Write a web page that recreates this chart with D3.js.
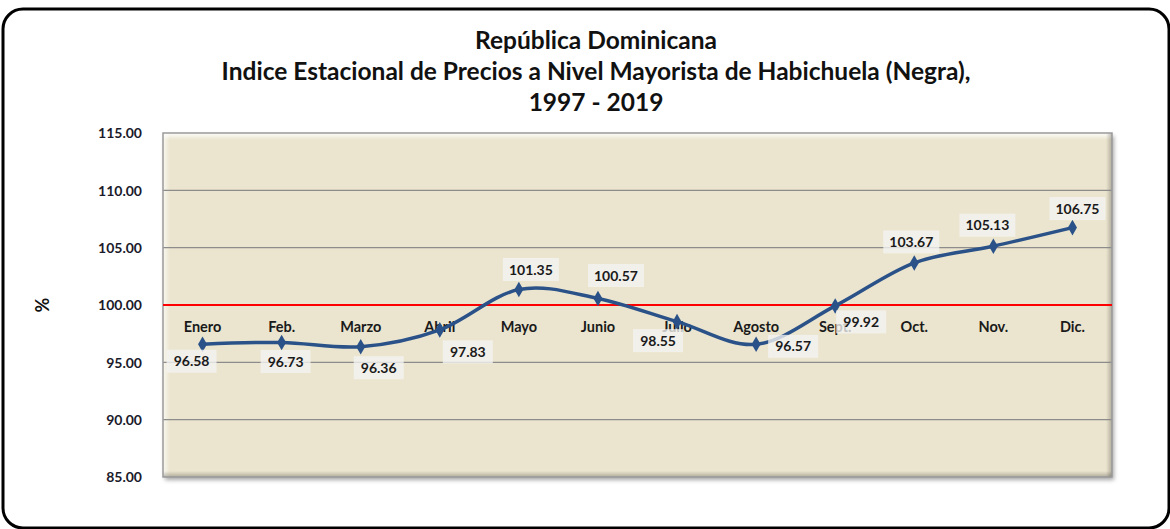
<!DOCTYPE html>
<html>
<head>
<meta charset="utf-8">
<script src="https://cdn.jsdelivr.net/npm/d3@7"></script>
<style>
  body { margin: 0; background: #fff; }
  svg { display: block; font-family: Lato, "Open Sans", sans-serif; font-weight: bold; }
</style>
</head>
<body>
<svg id="chart" width="1170" height="529"></svg>
<script>
var titleLines = ['República Dominicana',
                  'Indice Estacional de Precios a Nivel Mayorista de Habichuela (Negra),',
                  '1997 - 2019'];
var months = ['Enero', 'Feb.', 'Marzo', 'Abril', 'Mayo', 'Junio', 'Julio', 'Agosto', 'Sept.', 'Oct.', 'Nov.', 'Dic.'];
var indexValues = [96.58, 96.73, 96.36, 97.83, 101.35, 100.57, 98.55, 96.57, 99.92, 103.67, 105.13, 106.75];
var yTicks = [85, 90, 95, 100, 105, 110, 115];
var baseline = 100;

// where Excel put each data label, relative to its point
var labelOffsets = [[-11, 17], [4, 19], [18, 21], [28, 22], [12, -20], [18, -23],
                    [-19, 19], [37, 2], [26, 16], [-3, -21], [-6, -21], [5, -19]];

var svg = d3.select('#chart');
var plot = {left: 163, top: 133, right: 1112, bottom: 477};

var x = d3.scalePoint().domain(months).range([plot.left, plot.right]).padding(0.5);
var y = d3.scaleLinear().domain([85, 115]).range([plot.bottom, plot.top]);

var defs = svg.append('defs');
defs.append('filter').attr('id', 'shadow')
    .attr('x', '-5%').attr('y', '-5%').attr('width', '110%').attr('height', '115%')
  .append('feDropShadow')
    .attr('dx', 2).attr('dy', 3).attr('stdDeviation', 2)
    .attr('flood-color', '#000').attr('flood-opacity', 0.35);

function grad(id, x2, y2, stops) {
    var g = defs.append('linearGradient').attr('id', id)
        .attr('x1', 0).attr('y1', 0).attr('x2', x2).attr('y2', y2);
    stops.forEach((s) => g.append('stop').attr('offset', s[0]).attr('stop-color', s[1]).attr('stop-opacity', s[2]));
}
grad('hiTop', 0, 1, [[0, '#fff', 0.9], [1, '#fff', 0]]);
grad('hiLeft', 1, 0, [[0, '#fff', 0.7], [1, '#fff', 0]]);
grad('loRight', 1, 0, [[0, '#000', 0], [1, '#000', 0.25]]);
grad('loBottom', 0, 1, [[0, '#000', 0], [1, '#000', 0.25]]);

// outer rounded frame
svg.append('rect')
    .attr('x', 3).attr('y', 9).attr('width', 1166).attr('height', 519)
    .attr('rx', 20).attr('ry', 20)
    .attr('fill', '#fff').attr('stroke', '#000').attr('stroke-width', 3);

// title
svg.append('g').selectAll('text').data(titleLines).enter().append('text')
    .attr('x', 596).attr('y', (d, i) => 49 + i * 31)
    .attr('text-anchor', 'middle').attr('font-size', 24.5).attr('fill', '#111')
    .text((d) => d);

// plot area with bevel
var pw = plot.right - plot.left, ph = plot.bottom - plot.top;
svg.append('rect')
    .attr('x', plot.left).attr('y', plot.top).attr('width', pw).attr('height', ph)
    .attr('fill', '#ebe5cf').attr('filter', 'url(#shadow)');
svg.append('rect').attr('x', plot.left).attr('y', plot.top).attr('width', pw).attr('height', 7).attr('fill', 'url(#hiTop)');
svg.append('rect').attr('x', plot.left).attr('y', plot.top).attr('width', 7).attr('height', ph).attr('fill', 'url(#hiLeft)');
svg.append('rect').attr('x', plot.right - 6).attr('y', plot.top).attr('width', 6).attr('height', ph).attr('fill', 'url(#loRight)');
svg.append('rect').attr('x', plot.left).attr('y', plot.bottom - 6).attr('width', pw).attr('height', 6).attr('fill', 'url(#loBottom)');

// gridlines
svg.append('g').selectAll('line').data(yTicks.filter((t) => t > 85 && t < 115 && t !== baseline)).enter().append('line')
    .attr('x1', plot.left).attr('x2', plot.right)
    .attr('y1', (d) => y(d)).attr('y2', (d) => y(d))
    .attr('stroke', '#8c8c8c').attr('stroke-width', 1.3);

svg.append('rect')
    .attr('x', plot.left).attr('y', plot.top).attr('width', pw).attr('height', ph)
    .attr('fill', 'none').attr('stroke', '#9a9a9a').attr('stroke-width', 1.5);

// y axis
var yAxis = svg.append('g')
    .attr('transform', 'translate(' + (plot.left - 21) + ',0)')
    .call(d3.axisLeft(y).tickValues(yTicks).tickFormat(d3.format('.2f')).tickSize(0).tickPadding(0));
yAxis.select('.domain').remove();
yAxis.selectAll('text').attr('font-size', 14).attr('font-family', 'Lato, sans-serif')
    .attr('font-weight', 'bold').attr('fill', '#1a1a2a').attr('dy', '0.35em');

svg.append('text')
    .attr('transform', 'translate(49,' + y(baseline) + ') rotate(-90)')
    .attr('text-anchor', 'middle').attr('font-size', 18).attr('fill', '#111')
    .text('%');

// reference line at 100
svg.append('line')
    .attr('x1', plot.left).attr('x2', plot.right)
    .attr('y1', y(baseline)).attr('y2', y(baseline))
    .attr('stroke', '#ff0000').attr('stroke-width', 2.2);

// category labels sit just under the 100 crossing
svg.append('g').selectAll('text').data(months).enter().append('text')
    .attr('x', (d) => x(d)).attr('y', y(baseline) + 27)
    .attr('text-anchor', 'middle').attr('font-size', 14.5).attr('fill', '#1a1a1a')
    .text((d) => d);

// series
var points = months.map((m, i) => ({m: m, v: indexValues[i], off: labelOffsets[i]}));
var line = d3.line().x((d) => x(d.m)).y((d) => y(d.v)).curve(d3.curveCardinal.tension(0));
svg.append('path').datum(points)
    .attr('d', line).attr('fill', 'none')
    .attr('stroke', '#2a5288').attr('stroke-width', 3.5).attr('stroke-linecap', 'round');

svg.append('g').selectAll('path').data(points).enter().append('path')
    .attr('d', d3.symbol().type(d3.symbolDiamond).size(70))
    .attr('transform', (d) => 'translate(' + x(d.m) + ',' + y(d.v) + ')')
    .attr('fill', '#2a5288');

// data labels (boxes a bit see-through, as in the original)
var labels = svg.append('g').selectAll('g').data(points).enter().append('g')
    .attr('transform', (d) => 'translate(' + (x(d.m) + d.off[0]) + ',' + (y(d.v) + d.off[1]) + ')');
labels.append('rect')
    .attr('x', (d) => d.v >= 100 ? -28 : -25).attr('y', -11.5)
    .attr('width', (d) => d.v >= 100 ? 56 : 50).attr('height', 23)
    .attr('fill', '#f4f4f2').attr('fill-opacity', 0.78);
labels.append('text')
    .attr('text-anchor', 'middle').attr('dy', '0.36em')
    .attr('font-size', 14).attr('fill', '#1a1a1a')
    .text((d) => d3.format('.2f')(d.v));
</script>
</body>
</html>
